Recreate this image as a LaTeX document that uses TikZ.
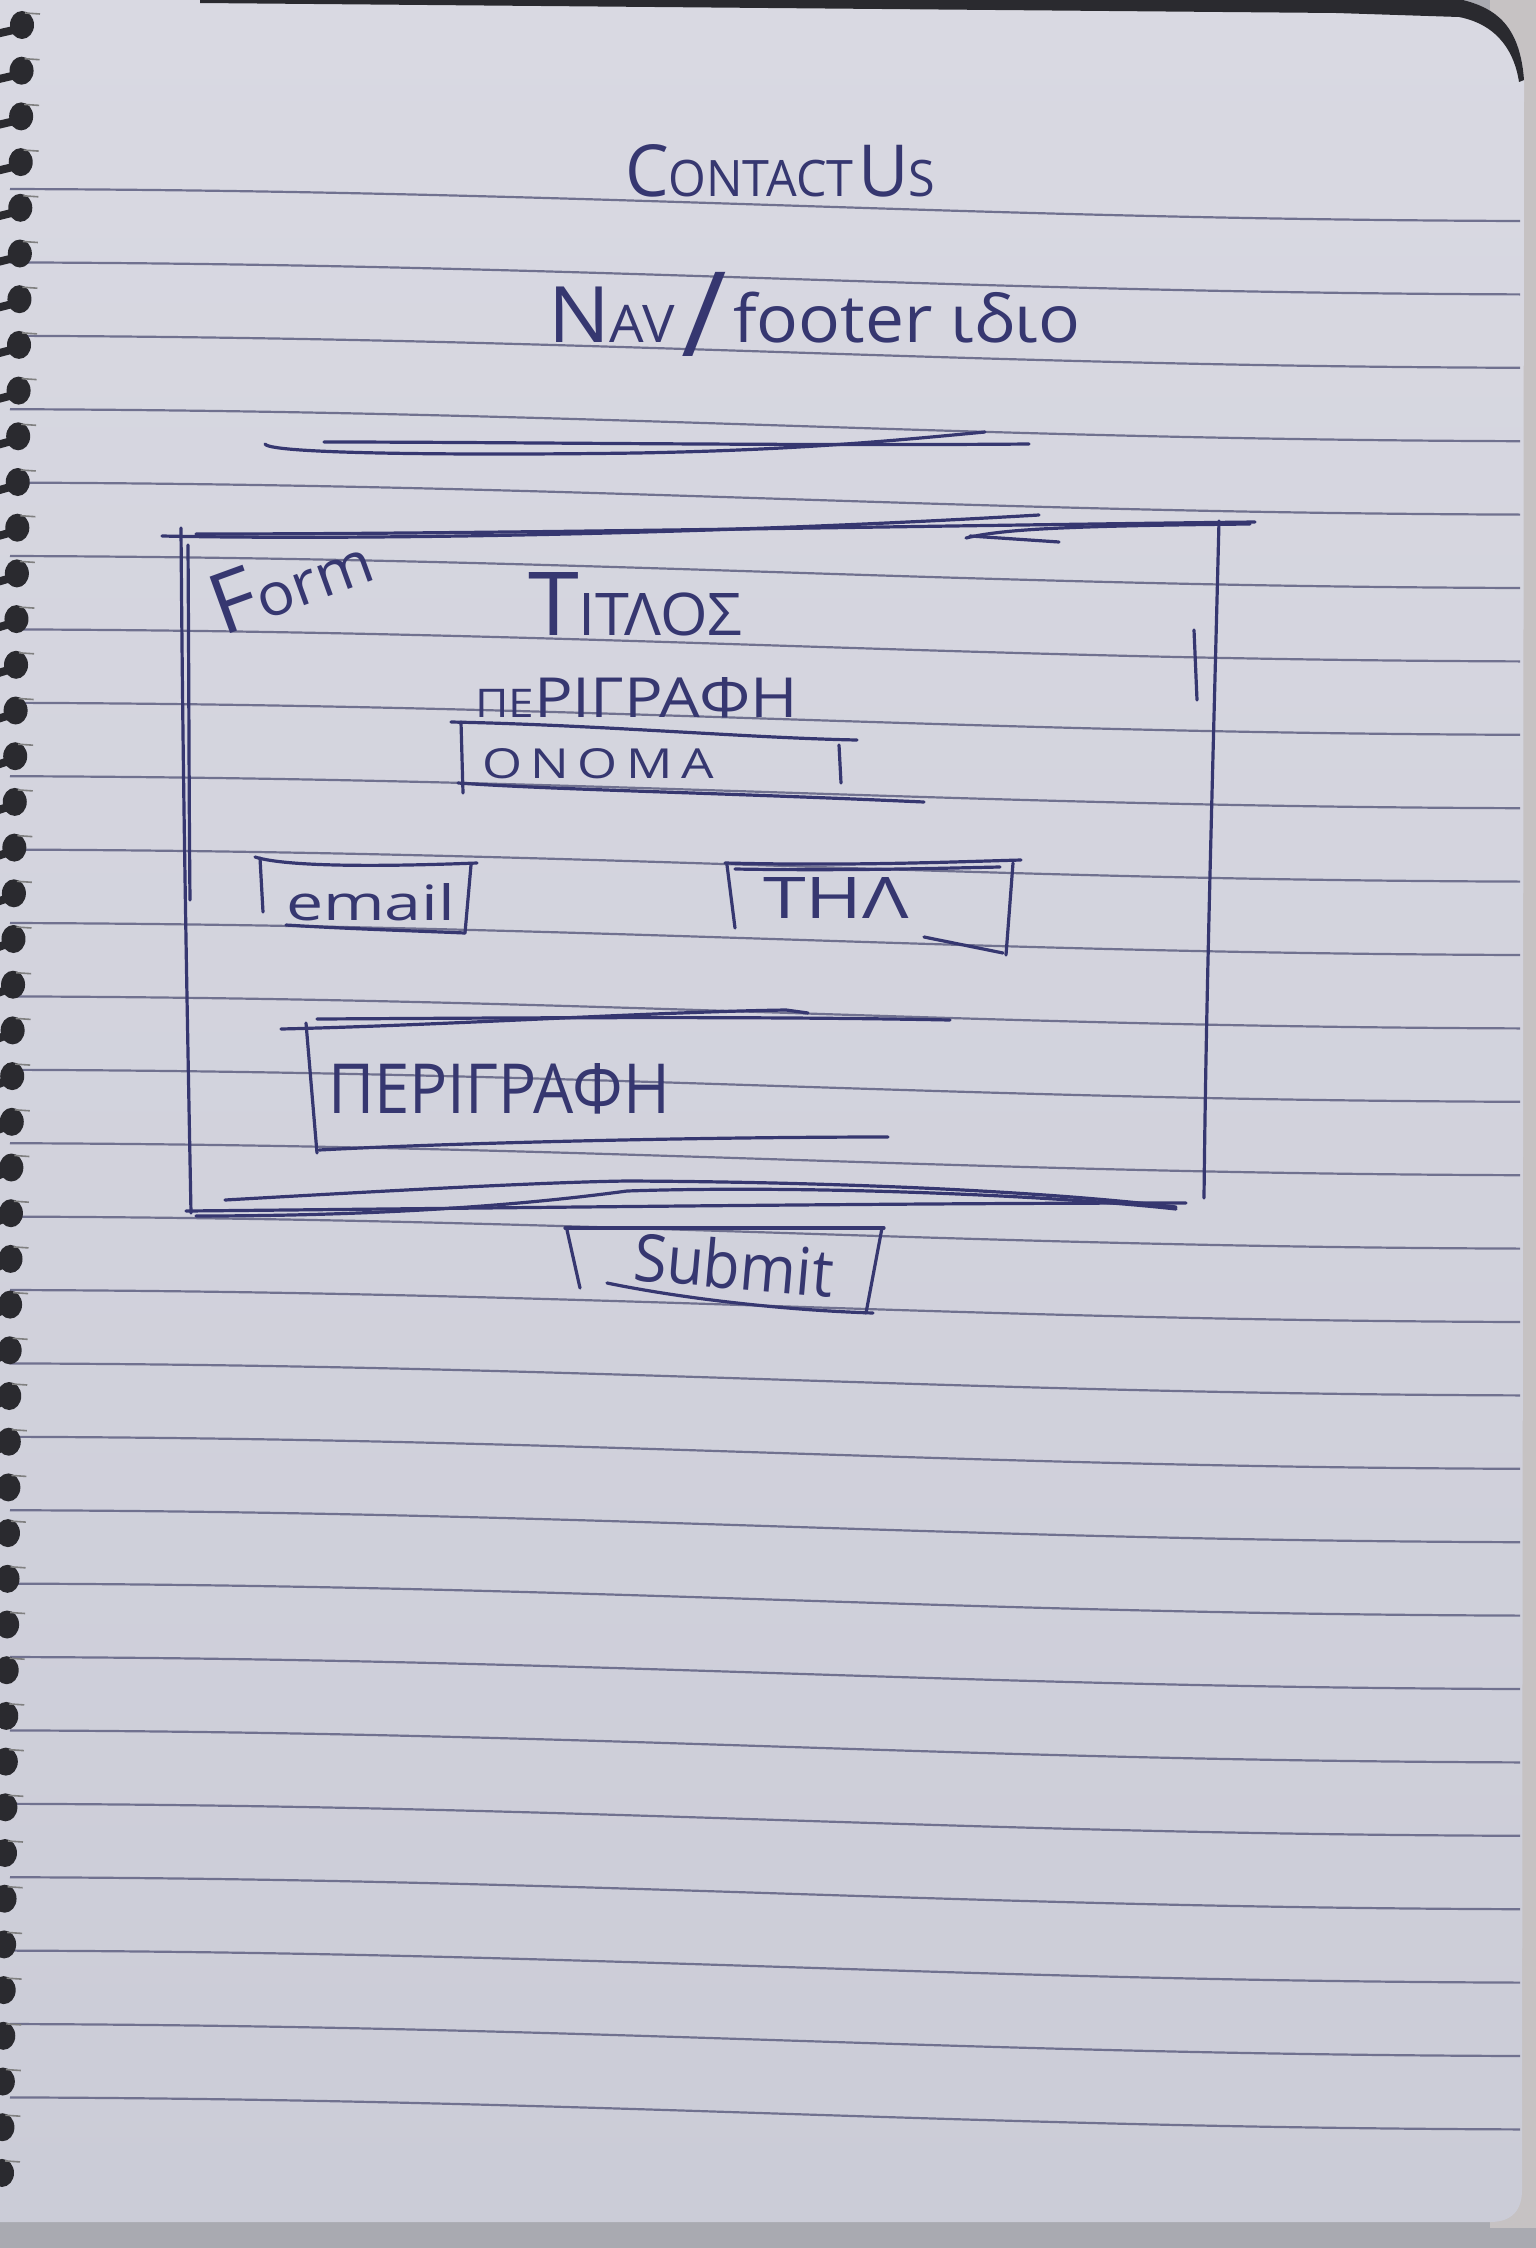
\documentclass[tikz,border=0pt]{standalone}
\usepackage{fontspec}
\setmainfont{Open Sans}
\usepackage{graphicx}
\definecolor{paperTop}{HTML}{D9D9E2}
\definecolor{paperBot}{HTML}{CBCCD7}
\definecolor{rulec}{HTML}{70718F}
\definecolor{inkc}{HTML}{363770}
\definecolor{ringc}{HTML}{2A2A2F}
\definecolor{edgec}{HTML}{C6C2C3}
\definecolor{deskc}{HTML}{A9AAB1}
\newcommand{\fs}[1]{\fontsize{#1}{#1}\selectfont}
\begin{document}
\begin{tikzpicture}[x=0.5pt,y=-0.5pt,
  ink/.style={draw=inkc,line width=1.6pt,line cap=round,line join=round},
  rule/.style={draw=rulec,line width=1.1pt},
  txt/.style={text=inkc,inner sep=0pt,outer sep=0pt,anchor=base west}]
\useasboundingbox (0,0) rectangle (1536,2248);
% desk, page edge and the page itself
\fill[deskc] (0,0) rectangle (1536,2248);
\fill[edgec] (1490,0) rectangle (1536,2228);
\shade[top color=paperTop,bottom color=paperBot]
  (0,0) -- (1463,0) .. controls (1495,8) and (1520,25) .. (1524,80)
  -- (1522,2190) .. controls (1522,2210) and (1512,2222) .. (1490,2222)
  -- (0,2222) -- cycle;
% dark cover showing along the top
\fill[ringc] (200,0) -- (1463,0) .. controls (1495,8) and (1520,25) .. (1524,80)
  -- (1519,82) .. controls (1515,55) and (1500,25) .. (1459,17)
  -- (1336,13) -- (200,3) -- cycle;
% ruled lines
\foreach \k in {0,...,26}{
  \pgfmathsetmacro\yy{189+73.4*\k}
  \draw[rule] (10,\yy) .. controls (600,{\yy+2}) and (950,{\yy+30}) .. (1520,{\yy+32});
}
% spiral binding
\foreach \k in {0,...,47}{
  \pgfmathsetmacro\yy{25+45.7*\k}
  \pgfmathsetmacro\cx{22-20*\k/47}
  \draw[ringc,line width=4pt,line cap=round] ({\cx-4},{\yy+4}) -- (-4,{\yy+9});
  \fill[ringc] (\cx,\yy) ellipse [x radius=12, y radius=14];
  \draw[gray,line width=0.8pt] ({\cx+3},{\yy-12}) -- ({\cx+18},{\yy-11});
}
% headings
\node[txt] (title) at (625,197) {\resizebox{155pt}{26pt}{{\fs{40}C}{\fs{28}ONTACT} {\fs{40}U}{\fs{28}S}}};
\node[txt] (nav) at (548,342) {\resizebox{266pt}{35pt}{{\fs{33}N}{\fs{22}AV} \raisebox{-6pt}{\fs{50}/} {\fs{28}footer ιδιο}}};
\draw[ink] (265,444) .. controls (270,455) and (500,455) .. (637,453) .. controls (800,450) and (900,440) .. (985,432);
\draw[ink] (324,442) .. controls (500,442) and (800,446) .. (1029,444);
% form frame
\draw[ink] (162,536) .. controls (350,540) and (700,535) .. (1039,515);
\draw[ink] (196,534) .. controls (500,534) and (900,526) .. (1255,522);
\draw[ink] (970,536) -- (1059,542);
\draw[ink] (966,538) .. controls (1000,530) and (1050,526) .. (1250,524);
\draw[ink] (181,528) .. controls (183,800) and (187,1000) .. (191,1213);
\draw[ink] (188,545) .. controls (189,700) and (189,800) .. (190,900);
\draw[ink] (1219,521) .. controls (1212,800) and (1206,1000) .. (1204,1198);
\draw[ink] (1194,630) -- (1197,700);
\draw[ink] (186,1211) .. controls (500,1208) and (900,1203) .. (1186,1203);
\draw[ink] (196,1216) .. controls (420,1216) and (560,1200) .. (627,1191) .. controls (800,1185) and (1050,1195) .. (1176,1209);
\draw[ink] (225,1200) .. controls (400,1190) and (550,1182) .. (627,1181) .. controls (850,1182) and (1050,1192) .. (1176,1207);
% form contents
\node[txt,rotate=20] (formlbl) at (222,636) {\resizebox{83pt}{30pt}{{\fs{34}F}{\fs{24}orm}}};
\node[txt] (titlos) at (528,635) {\resizebox{107pt}{31.5pt}{{\fs{42}Τ}{\fs{28}ΙΤΛΟΣ}}};
\node[txt] (perigr) at (475,717) {\resizebox{161.5pt}{20pt}{{\fs{20}ΠΕ}{\fs{28}ΡΙΓΡΑΦΗ}}};
% name field
\draw[ink] (451,722) .. controls (600,725) and (750,738) .. (857,740);
\draw[ink] (461,722) -- (463,793);
\draw[ink] (839,745) -- (841,783);
\draw[ink] (458,783) .. controls (560,790) and (700,792) .. (924,802);
\node[txt] (onoma) at (482,778) {\resizebox{116pt}{15pt}{\fs{28}Ο\,Ν\,Ο\,Μ\,Α}};
% email field
\draw[ink] (255,857) .. controls (290,868) and (400,866) .. (477,863);
\draw[ink] (260,858) -- (263,912);
\draw[ink] (471,865) -- (465,933);
\draw[ink] (286,925) .. controls (350,929) and (420,931) .. (465,933);
\node[txt] (email) at (286,920) {\resizebox{84.5pt}{18.5pt}{\fs{28}email}};
% phone field
\draw[ink] (725,863) .. controls (850,866) and (950,862) .. (1021,860);
\draw[ink] (735,869) .. controls (850,871) and (950,868) .. (1000,867);
\draw[ink] (727,865) -- (735,928);
\draw[ink] (1013,863) -- (1006,955);
\draw[ink] (924,937) -- (1003,953);
\node[txt] (til) at (763,918) {\resizebox{73pt}{20.5pt}{\fs{28}ΤΗΛ}};
% message field
\draw[ink] (281,1029) .. controls (450,1025) and (650,1012) .. (786,1010) -- (808,1013);
\draw[ink] (317,1019) .. controls (500,1018) and (750,1016) .. (950,1020);
\draw[ink] (306,1023) -- (317,1153);
\draw[ink] (319,1150) .. controls (450,1143) and (700,1137) .. (888,1137);
\node[txt] (msg) at (328,1113) {\resizebox{171pt}{25pt}{\fs{28}ΠΕΡΙΓΡΑΦΗ}};
% submit button
\draw[ink] (565,1228) -- (884,1228);
\draw[ink] (567,1230) -- (580,1288);
\draw[ink] (882,1228) -- (866,1313);
\draw[ink] (607,1283) .. controls (680,1298) and (780,1310) .. (873,1313);
\node[txt,rotate=-5] (submit) at (632,1280) {\resizebox{100pt}{25pt}{\fs{28}Submit}};
\end{tikzpicture}
\end{document}
